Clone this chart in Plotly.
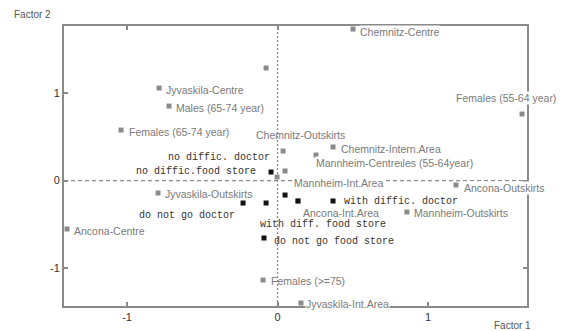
import plotly.graph_objects as go

# ---- data ----
cat_names = ["Chemnitz-Centre", "", "Jyvaskila-Centre", "Males (65-74 year)",
             "Females (65-74 year)", "Females (55-64 year)", "Chemnitz-Outskirts",
             "Chemnitz-Intern.Area", "Males (55-64year)", "Mannheim-Int.Area",
             "Ancona-Outskirts", "Jyvaskila-Outskirts", "Ancona-Int.Area",
             "Mannheim-Outskirts", "Ancona-Centre", "Females (>=75)",
             "Jyvaskila-Int.Area", "Mannheim-Centre"]
cat_f1 = [0.502, -0.076, -0.787, -0.721, -1.040, 1.625, 0.037, 0.369, 0.050,
          -0.003, 1.186, -0.794, 0.136, 0.860, -1.399, -0.096, 0.156, 0.256]
cat_f2 = [1.731, 1.286, 1.057, 0.851, 0.577, 0.760, 0.337, 0.383, 0.109,
          0.040, -0.051, -0.143, -0.234, -0.360, -0.554, -1.137, -1.400, 0.291]

var_names = ["no diffic.food store", "no diffic. doctor", "do not go doctor",
             "with diff. food store", "", "with diffic. doctor", "do not go food store"]
var_f1 = [-0.043, 0.050, -0.229, -0.076, 0.136, 0.369, -0.090]
var_f2 = [0.097, -0.166, -0.257, -0.257, -0.234, -0.234, -0.657]

x_ticks = [-1, 0, 1]
y_ticks = [-1, 0, 1]

# ---- label placement (pixel offsets from the point: dx, dy(down), anchor, white bg) ----
cat_label_pos = {
    "Chemnitz-Centre": (6, 3, "left", True),
    "Jyvaskila-Centre": (6, 2, "left", False),
    "Males (65-74 year)": (6, 2, "left", False),
    "Females (65-74 year)": (7, 2, "left", False),
    "Females (55-64 year)": (-16, -16, "center", True),
    "Chemnitz-Outskirts": (17, -16, "center", False),
    "Chemnitz-Intern.Area": (7, 2, "left", False),
    "Males (55-64year)": (189, -8, "right", False),
    "Mannheim-Int.Area": (16, 6, "left", True),
    "Ancona-Outskirts": (7, 3, "left", True),
    "Jyvaskila-Outskirts": (6, 1, "left", False),
    "Ancona-Int.Area": (4, 12, "left", False),
    "Mannheim-Outskirts": (6, 1, "left", False),
    "Ancona-Centre": (6, 2, "left", False),
    "Females (>=75)": (7, 1, "left", False),
    "Jyvaskila-Int.Area": (4, 1, "left", True),
    "Mannheim-Centre": (-1, 8, "left", True),
}
var_label_pos = {
    "no diffic.food store": (-13, -1, "right"),
    "no diffic. doctor": (-13, -38, "right"),
    "do not go doctor": (-6, 12, "right"),
    "with diff. food store": (-8, 21, "left"),
    "with diffic. doctor": (9, 0, "left"),
    "do not go food store": (8, 3, "left"),
}

GRAY = "#8a8a8a"
LABEL_GRAY = "#7a7a7a"
L, R, T, B = 64, 36, 26, 25
W, H = 563, 331
PW, PH = W - L - R, H - T - B

fig = go.Figure()
fig.add_trace(go.Scatter(x=cat_f1, y=cat_f2, mode="markers",
                         marker=dict(symbol="square", size=5, color=GRAY),
                         hoverinfo="skip", showlegend=False))
fig.add_trace(go.Scatter(x=var_f1, y=var_f2, mode="markers",
                         marker=dict(symbol="square", size=5, color="#111111"),
                         hoverinfo="skip", showlegend=False))

annotations = []
for n, x, y in zip(cat_names, cat_f1, cat_f2):
    if not n:
        continue
    dx, dy, anc, bg = cat_label_pos[n]
    annotations.append(dict(x=x, y=y, xref="x", yref="y", text=n, showarrow=False,
                            xanchor=anc, yanchor="middle", xshift=dx, yshift=-dy,
                            font=dict(family="Liberation Sans, Arial", size=10.5, color=LABEL_GRAY),
                            bgcolor="white" if bg else None, borderpad=0))
for n, x, y in zip(var_names, var_f1, var_f2):
    if not n:
        continue
    dx, dy, anc = var_label_pos[n]
    annotations.append(dict(x=x, y=y, xref="x", yref="y", text=n, showarrow=False,
                            xanchor=anc, yanchor="middle", xshift=dx, yshift=-dy,
                            font=dict(family="Liberation Mono, Courier New", size=10, color="#333333")))

annotations.append(dict(x=(12 - L) / PW, y=1 + (T - 15) / PH, xref="paper", yref="paper",
                        text="Factor 2", showarrow=False, xanchor="left", yanchor="middle",
                        font=dict(family="Liberation Sans, Arial", size=10, color="#555555")))
annotations.append(dict(x=(512 - L) / PW, y=-(325 - (H - B)) / PH, xref="paper", yref="paper",
                        text="Factor 1", showarrow=False, xanchor="center", yanchor="middle",
                        font=dict(family="Liberation Sans, Arial", size=10, color="#555555")))

shapes = [
    dict(type="line", xref="x", yref="paper", x0=0, x1=0, y0=0, y1=1,
         line=dict(color=GRAY, width=1.3, dash="2px,2px"), layer="below"),
    dict(type="line", xref="paper", yref="y", x0=0, x1=1, y0=0, y1=0,
         line=dict(color=GRAY, width=1.3, dash="4px,3px"), layer="below"),
]

axis_common = dict(showgrid=False, zeroline=False, showline=True, mirror="ticks",
                   linecolor=GRAY, linewidth=2, ticks="inside", ticklen=4,
                   tickcolor=GRAY, tickwidth=1.5, automargin=False,
                   tickfont=dict(family="Liberation Sans, Arial", size=11, color="#333333"))

fig.update_layout(
    width=W, height=H,
    margin=dict(l=L, r=R, t=T, b=B, autoexpand=False),
    plot_bgcolor="white", paper_bgcolor="white",
    xaxis=dict(range=[-1.419, 1.658], tickvals=x_ticks, ticktext=[str(v) for v in x_ticks], **axis_common),
    yaxis=dict(range=[-1.434, 1.766], tickvals=y_ticks, ticktext=[str(v) for v in y_ticks], **axis_common),
    annotations=annotations,
    shapes=shapes,
)
fig.write_html("out.html", config={"displayModeBar": False},
               post_script="document.body.style.margin='0';document.body.style.overflow='hidden';")
